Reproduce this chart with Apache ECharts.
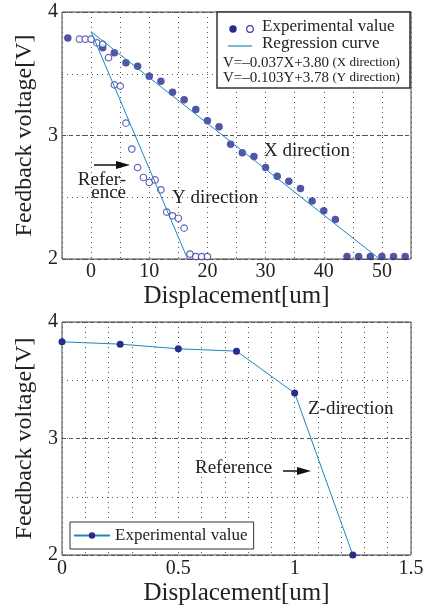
<!DOCTYPE html>
<html>
<head>
<meta charset="utf-8">
<script src="https://cdn.jsdelivr.net/npm/echarts@6/dist/echarts.min.js"></script>
<style>
	html, body { margin: 0; padding: 0; background: #fff; }
	#chart { width: 427px; height: 610px; }
</style>
</head>
<body>
<div id="chart"></div>
<script>
var serif = '"Liberation Serif", "DejaVu Serif", serif';
var navy = '#272b8c';
var ring = '#3a3ea8';
var teal = '#1f86c0';
var frame = '#444';

// top chart: X direction (filled) and Y direction (open)
var xDirX = [-4, 2, 4, 6, 8, 10, 12, 14, 16, 18, 20, 22, 24, 26, 28, 30, 32, 34, 36, 38, 40, 42, 44, 46, 48, 50, 52, 54];
var xDirV = [3.79, 3.71, 3.67, 3.59, 3.56, 3.48, 3.44, 3.35, 3.29, 3.21, 3.12, 3.07, 2.93, 2.86, 2.83, 2.74, 2.67, 2.63, 2.57, 2.47, 2.39, 2.32, 2.02, 2.02, 2.02, 2.02, 2.02, 2.02];
var yDirY = [-2, -1, 0, 1, 2, 3, 4, 5, 6, 7, 8, 9, 10, 11, 12, 13, 14, 15, 16, 17, 18, 19, 20];
var yDirV = [3.78, 3.78, 3.78, 3.75, 3.74, 3.63, 3.41, 3.40, 3.10, 2.89, 2.74, 2.66, 2.62, 2.64, 2.56, 2.38, 2.35, 2.33, 2.25, 2.04, 2.02, 2.02, 2.02];
// regression curves, end points
var xFitX = [0, 49.6];
var xFitV = [3.84, 2.0];
var yFitY = [0, 16.6];
var yFitV = [3.84, 2.0];

// bottom chart: Z direction
var zDisp = [0, 0.25, 0.5, 0.75, 1.0, 1.25];
var zV = [3.83, 3.81, 3.77, 3.75, 3.39, 2.0];

var topTicks = [0, 10, 20, 30, 40, 50];
var botTicks = ['0', '0.5', '1', '1.5'];

function pairs(a, b) {
	return a.map(function(v, i) { return [v, b[i]]; });
}

var dotted = { color: '#555', width: 1, type: [1, 4] };
var dashed = { color: '#555', width: 1, type: [4, 3] };
var tickFont = { fontFamily: serif, fontSize: 20, color: '#222' };
var nameFont = { fontFamily: serif, fontSize: 25, color: '#222' };

function yAxes(gridIndex) {
	return [{
		gridIndex: gridIndex, type: 'value', min: 2, max: 4, interval: 1,
		axisLine: { show: false }, axisTick: { show: false },
		axisLabel: Object.assign({ margin: 4 }, tickFont),
		splitLine: { show: true, lineStyle: dashed },
		name: 'Feedback voltage[V]', nameLocation: 'middle', nameGap: 22,
		nameTextStyle: { fontFamily: serif, fontSize: 24, color: '#222' }
	}, {
		gridIndex: gridIndex, type: 'value', min: 2, max: 4, interval: 0.5,
		axisLine: { show: false }, axisTick: { show: false }, axisLabel: { show: false },
		splitLine: { show: true, lineStyle: dotted }
	}];
}

var chart = echarts.init(document.getElementById('chart'));
chart.setOption({
	animation: false,
	grid: [
		{ left: 62, right: 16, top: 12, height: 247, show: true, borderColor: frame, borderWidth: 1, backgroundColor: 'transparent' },
		{ left: 62, right: 16, top: 322, height: 233, show: true, borderColor: frame, borderWidth: 1, backgroundColor: 'transparent' }
	],
	xAxis: [{
		gridIndex: 0, type: 'value', min: -5, max: 55, interval: 5,
		axisLine: { show: false }, axisTick: { show: false },
		axisLabel: Object.assign({
			margin: 3,
			formatter: function(v) { return topTicks.indexOf(v) >= 0 ? String(v) : ''; }
		}, tickFont),
		splitLine: { show: true, lineStyle: dotted },
		name: 'Displacement[um]', nameLocation: 'middle', nameGap: 25,
		nameTextStyle: nameFont
	}, {
		gridIndex: 1, type: 'value', min: 0, max: 1.5, interval: 0.1,
		axisLine: { show: false }, axisTick: { show: false },
		axisLabel: Object.assign({
			margin: 4,
			formatter: function(v) {
				var k = Math.round(v * 10);
				return k % 5 === 0 ? botTicks[k / 5] : '';
			}
		}, tickFont),
		splitLine: { show: true, lineStyle: dotted },
		name: 'Displacement[um]', nameLocation: 'middle', nameGap: 26,
		nameTextStyle: nameFont
	}],
	yAxis: yAxes(0).concat(yAxes(1)),
	legend: {
		data: ['Experimental value'],
		left: 70, top: 522,
		orient: 'horizontal',
		padding: [5, 6, 5, 3],
		itemWidth: 36, itemHeight: 8,
		backgroundColor: '#fff',
		borderColor: '#333', borderWidth: 1, borderRadius: 0,
		textStyle: { fontFamily: serif, fontSize: 17, color: '#222' }
	},
	series: [
		{
			type: 'line', xAxisIndex: 0, yAxisIndex: 0,
			data: pairs(xFitX, xFitV), showSymbol: false, silent: true,
			lineStyle: { color: teal, width: 1 }
		},
		{
			type: 'line', xAxisIndex: 0, yAxisIndex: 0,
			data: pairs(yFitY, yFitV), showSymbol: false, silent: true,
			lineStyle: { color: teal, width: 1 }
		},
		{
			type: 'scatter', xAxisIndex: 0, yAxisIndex: 0,
			data: pairs(xDirX, xDirV), symbol: 'circle', symbolSize: 7.5,
			itemStyle: { color: navy }
		},
		{
			type: 'scatter', xAxisIndex: 0, yAxisIndex: 0,
			data: pairs(yDirY, yDirV), symbol: 'circle', symbolSize: 6.5,
			itemStyle: { color: '#fff', borderColor: ring, borderWidth: 1.2 }
		},
		{
			name: 'Experimental value',
			type: 'line', xAxisIndex: 1, yAxisIndex: 2,
			data: pairs(zDisp, zV), symbol: 'circle', symbolSize: 7,
			itemStyle: { color: navy },
			lineStyle: { color: teal, width: 1 }
		}
	],
	graphic: [
		// top legend box
		{ type: 'rect', shape: { x: 217, y: 12, width: 193, height: 76 },
			style: { fill: '#fff', stroke: '#333', lineWidth: 1.5 }, z: 10 },
		{ type: 'circle', shape: { cx: 233, cy: 29, r: 3.7 }, style: { fill: navy }, z: 11 },
		{ type: 'circle', shape: { cx: 250, cy: 29, r: 3.3 }, style: { fill: '#fff', stroke: ring, lineWidth: 1.2 }, z: 11 },
		{ type: 'text', x: 262, y: 27, z: 11,
			style: { text: 'Experimental value', font: '17px ' + serif, fill: '#222', verticalAlign: 'middle' } },
		{ type: 'line', shape: { x1: 228, y1: 46, x2: 252, y2: 46 }, style: { stroke: teal, lineWidth: 1.2 }, z: 11 },
		{ type: 'text', x: 262, y: 44, z: 11,
			style: { text: 'Regression curve', font: '17px ' + serif, fill: '#222', verticalAlign: 'middle' } },
		{ type: 'text', x: 223, y: 63, z: 11,
			style: {
				text: '{a|V=\u20130.037X+3.80} {b|(X direction)}',
				verticalAlign: 'middle', fill: '#222',
				rich: { a: { fontFamily: serif, fontSize: 15 }, b: { fontFamily: serif, fontSize: 13 } }
			} },
		{ type: 'text', x: 223, y: 78, z: 11,
			style: {
				text: '{a|V=\u20130.103Y+3.78} {b|(Y direction)}',
				verticalAlign: 'middle', fill: '#222',
				rich: { a: { fontFamily: serif, fontSize: 15 }, b: { fontFamily: serif, fontSize: 13 } }
			} },
		// top annotations
		{ type: 'text', x: 264, y: 151, z: 11,
			style: { text: 'X direction', font: '19px ' + serif, fill: '#222', verticalAlign: 'middle' } },
		{ type: 'text', x: 172, y: 198, z: 11,
			style: { text: 'Y direction', font: '19px ' + serif, fill: '#222', verticalAlign: 'middle' } },
		{ type: 'text', x: 126, y: 180, z: 11,
			style: { text: 'Refer-', font: '19px ' + serif, fill: '#222', align: 'right', verticalAlign: 'middle' } },
		{ type: 'text', x: 126, y: 193, z: 11,
			style: { text: 'ence', font: '19px ' + serif, fill: '#222', align: 'right', verticalAlign: 'middle' } },
		{ type: 'line', shape: { x1: 94, y1: 165, x2: 120, y2: 165 }, style: { stroke: '#111', lineWidth: 1.5 }, z: 11 },
		{ type: 'polygon', shape: { points: [[116, 161], [130, 165], [116, 169]] }, style: { fill: '#111' }, z: 11 },
		// bottom annotations
		{ type: 'text', x: 308, y: 409, z: 11,
			style: { text: 'Z-direction', font: '19px ' + serif, fill: '#222', verticalAlign: 'middle' } },
		{ type: 'text', x: 195, y: 468, z: 11,
			style: { text: 'Reference', font: '19px ' + serif, fill: '#222', verticalAlign: 'middle' } },
		{ type: 'line', shape: { x1: 283, y1: 471, x2: 302, y2: 471 }, style: { stroke: '#111', lineWidth: 1.5 }, z: 11 },
		{ type: 'polygon', shape: { points: [[297, 467], [311, 471], [297, 475]] }, style: { fill: '#111' }, z: 11 }
	]
});
</script>
</body>
</html>
